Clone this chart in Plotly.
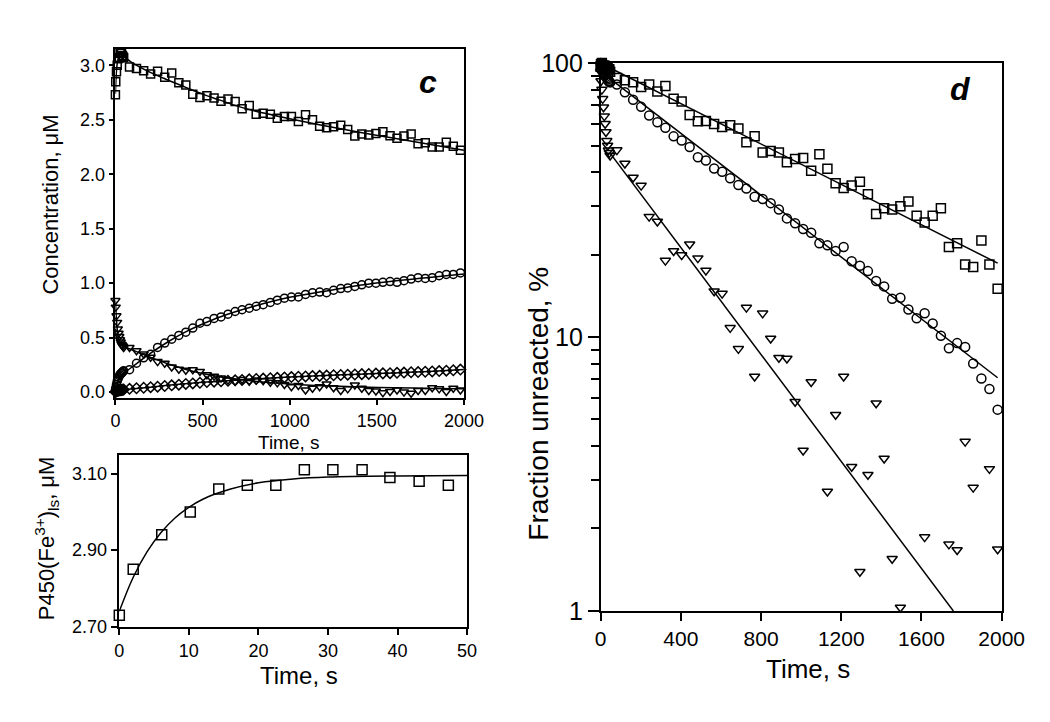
import plotly.graph_objects as go

# ---------------- data ----------------
t_early = [0, 2.0, 6.1, 10.2, 14.3, 18.4, 22.5, 26.6, 30.7, 34.9, 38.9, 43.1, 47.3]
t_late = [81, 121, 162, 202, 242, 283, 323, 364, 404, 444, 485, 525, 566, 606, 646, 687,
          727, 768, 808, 848, 889, 929, 970, 1010, 1050, 1091, 1131, 1172, 1212, 1252,
          1293, 1333, 1374, 1414, 1454, 1495, 1535, 1576, 1616, 1656, 1697, 1737, 1778,
          1818, 1858, 1899, 1939, 1980]
time_all = t_early + t_late

# panel c (concentration, uM)
sq_c_early = [2.73, 2.85, 2.94, 3.00, 3.06, 3.07, 3.07, 3.11, 3.11, 3.11, 3.09, 3.08, 3.07]
sq_c_late = [2.985, 2.97, 2.95, 2.92, 2.945, 2.89, 2.93, 2.84, 2.82, 2.735, 2.705, 2.72,
             2.70, 2.67, 2.69, 2.667, 2.60, 2.63, 2.55, 2.56, 2.55, 2.515, 2.53, 2.53,
             2.485, 2.545, 2.50, 2.44, 2.426, 2.435, 2.45, 2.41, 2.35, 2.37, 2.36, 2.374,
             2.39, 2.353, 2.33, 2.35, 2.37, 2.28, 2.29, 2.25, 2.25, 2.294, 2.256, 2.22]
circ_c = [0.02, 0.04, 0.07, 0.10, 0.12, 0.135, 0.15, 0.16, 0.17, 0.175, 0.18, 0.19, 0.195,
          0.206, 0.265, 0.315, 0.347, 0.41, 0.45, 0.485, 0.52, 0.55, 0.588, 0.632, 0.647,
          0.676, 0.69, 0.715, 0.74, 0.756, 0.77, 0.788, 0.803, 0.823, 0.844, 0.862, 0.873,
          0.873, 0.897, 0.912, 0.918, 0.912, 0.935, 0.95, 0.956, 0.97, 0.985, 1.0, 1.0,
          1.008, 1.015, 1.008, 1.023, 1.038, 1.05, 1.044, 1.05, 1.068, 1.08, 1.08, 1.094]
tri_c = [0.84, 0.78, 0.70, 0.64, 0.58, 0.54, 0.51, 0.48, 0.46, 0.44, 0.43, 0.42, 0.41,
         0.41, 0.38, 0.35, 0.32, 0.28, 0.265, 0.23, 0.21, 0.20, 0.205, 0.19, 0.16, 0.145,
         0.13, 0.11, 0.10, 0.115, 0.10, 0.11, 0.105, 0.09, 0.085, 0.07, 0.05, 0.06, 0.02,
         0.035, 0.05, 0.075, 0.04, 0.015, 0.03, 0.065, 0.035, 0.015, 0.01, -0.005, 0.005,
         0.02, 0.0, -0.01, 0.015, 0.015, 0.04, 0.03, 0.005, 0.035, 0.02]
dia_c = [0.0, 0.005, 0.008, 0.01, 0.012, 0.014, 0.016, 0.018, 0.019, 0.02, 0.021, 0.022, 0.023,
         0.03, 0.035, 0.04, 0.045, 0.05, 0.056, 0.062, 0.068, 0.075, 0.08,
         0.086, 0.092, 0.096, 0.10, 0.104, 0.108, 0.112, 0.117, 0.12, 0.124,
         0.127, 0.131, 0.135, 0.138, 0.141, 0.144, 0.147, 0.149, 0.152, 0.155,
         0.157, 0.16, 0.162, 0.165, 0.167, 0.17, 0.172, 0.174, 0.177, 0.179,
         0.182, 0.184, 0.187, 0.19, 0.193, 0.197, 0.201, 0.207]

# fitted curves, panel c
sq_fit_t = [0, 3, 6, 10, 15, 20, 30, 50, 100, 200, 300, 400, 500, 600, 700, 800, 1000, 1200,
            1400, 1600, 1800, 2000]
sq_fit_y = [2.74, 2.87, 2.95, 3.01, 3.05, 3.07, 3.085, 3.075, 3.02, 2.935, 2.865, 2.80, 2.735,
            2.68, 2.625, 2.58, 2.51, 2.445, 2.385, 2.33, 2.275, 2.22]
circ_fit_t = [0, 10, 25, 50, 100, 200, 300, 400, 500, 600, 800, 1000, 1200, 1400, 1600, 1800, 2000]
circ_fit_y = [0.0, 0.07, 0.13, 0.175, 0.235, 0.355, 0.46, 0.55, 0.625, 0.69, 0.79, 0.87, 0.925,
              0.98, 1.02, 1.052, 1.085]
tri_fit_t = [0, 3, 6, 10, 15, 22, 35, 50, 100, 200, 300, 400, 500, 600, 700, 800, 1000, 1200,
             1400, 1600, 1800, 2000]
tri_fit_y = [0.84, 0.74, 0.66, 0.58, 0.52, 0.48, 0.44, 0.42, 0.385, 0.32, 0.26, 0.21, 0.17, 0.14,
             0.118, 0.10, 0.075, 0.058, 0.047, 0.04, 0.034, 0.03]
dia_fit_t = [0, 50, 100, 200, 300, 400, 500, 600, 800, 1000, 1200, 1400, 1600, 1800, 2000]
dia_fit_y = [0.0, 0.02, 0.03, 0.045, 0.062, 0.077, 0.09, 0.10, 0.12, 0.138, 0.152, 0.164, 0.176,
             0.19, 0.207]

# inset fit
inset_fit_t = [0, 2, 4, 6, 8, 10, 12, 14, 16, 20, 25, 30, 40, 50]
inset_fit_y = [2.74, 2.829, 2.896, 2.946, 2.984, 3.012, 3.033, 3.048, 3.060, 3.076, 3.086, 3.091,
               3.094, 3.095]

# panel d (fraction unreacted, %)
sq_d = [97, 99, 100, 98, 96, 98, 97, 95, 97, 96, 94, 95, 93,
        88.2, 86.5, 85.1, 81.7, 83.5, 78.7, 82.4, 74.0, 72.4, 64.6,
        61.3, 61.5, 59.9, 58.4, 59.3, 57.7, 51.4, 54.0, 47.1, 47.7,
        47.1, 43.4, 44.6, 45.0, 40.4, 46.5, 41.1, 36.4, 35.0, 35.7,
        36.9, 33.2, 28.1, 29.5, 29.2, 30.0, 31.2, 27.7, 26.2, 27.7,
        29.5, 21.3, 22.0, 18.4, 18.0, 22.5, 18.4, 15.0]
circ_d = [100, 99, 97, 95, 93, 92, 90, 89, 88, 87, 86, 85.5, 85,
          83.5, 78.2, 73.4, 69.2, 64.3, 60.8, 58.0, 54.0, 52.1, 49.4,
          45.3, 44.1, 41.2, 40.1, 38.0, 35.9, 34.8, 32.5, 31.9, 30.8,
          29.2, 27.1, 26.0, 24.8, 24.0, 22.0, 21.6, 20.6, 21.3, 18.9,
          18.2, 17.4, 16.0, 15.3, 13.8, 13.9, 12.6, 11.7, 12.2, 11.2,
          10.1, 9.1, 9.5, 9.2, 8.0, 7.06, 6.46, 5.43]
tri_d = [93, 86, 80, 74, 69, 64, 60, 56, 52, 50, 48, 47, 46,
         48.1, 43.0, 38.2, 35.7, 27.5, 26.4, 19.0, 20.6, 19.9, 21.8,
         19.4, 17.5, 14.7, 14.4, 10.8, 9.05, 12.8, 7.17, 12.2, 9.87,
         8.4, 8.35, 5.8, 3.85, 6.85, None, 2.73, 5.2, 7.17, 3.36,
         1.39, 3.14, 5.73, 3.6, 1.55, 1.03, None, None, 1.86, None,
         None, 1.75, 1.67, 4.15, 2.82, None, 3.3, 1.68]

sq_d_fit_t = [40, 1980]
sq_d_fit_y = [96.5, 18.6]
circ_d_fit_t = [40, 1980]
circ_d_fit_y = [88.5, 7.1]
tri_d_fit_t = [48, 1759]
tri_d_fit_y = [46.8, 1.0]

y_minor_vals = [2, 3, 4, 5, 6, 7, 8, 9, 20, 30, 40, 50, 60, 70, 80, 90]

# ---------------- figure ----------------
FONT = "Liberation Sans, Arial, sans-serif"
BLK = "black"
fig = go.Figure()


def mk(symbol, size=8):
    return dict(symbol=symbol, size=size, color=BLK, line=dict(color=BLK, width=1.5))


def fit(x, y, xa, ya, shape="spline"):
    fig.add_trace(go.Scatter(x=x, y=y, mode="lines", xaxis=xa, yaxis=ya,
                             line=dict(color=BLK, width=1.5, shape=shape),
                             showlegend=False, hoverinfo="skip", cliponaxis=False))


def pts(x, y, symbol, xa, ya, size=8):
    fig.add_trace(go.Scatter(x=x, y=y, mode="markers", xaxis=xa, yaxis=ya,
                             marker=mk(symbol, size), showlegend=False, cliponaxis=False))


# panel c
fit(sq_fit_t, sq_fit_y, "x", "y")
fit(circ_fit_t, circ_fit_y, "x", "y")
fit(tri_fit_t, tri_fit_y, "x", "y")
fit(dia_fit_t, dia_fit_y, "x", "y")
pts(time_all, sq_c_early + sq_c_late, "square-open", "x", "y")
pts(time_all, circ_c, "circle-open", "x", "y")
pts(time_all, tri_c, "triangle-down-open", "x", "y")
pts(time_all, dia_c, "diamond-open", "x", "y")

# inset
fit(inset_fit_t, inset_fit_y, "x2", "y2")
pts(t_early, sq_c_early, "square-open", "x2", "y2", size=10)

# panel d
fit(sq_d_fit_t, sq_d_fit_y, "x3", "y3", "linear")
fit(circ_d_fit_t, circ_d_fit_y, "x3", "y3", "linear")
fit(tri_d_fit_t, tri_d_fit_y, "x3", "y3", "linear")
pts(time_all, sq_d, "square-open", "x3", "y3", size=9)
pts(time_all, circ_d, "circle-open", "x3", "y3", size=9)
pts(time_all, tri_d, "triangle-down-open", "x3", "y3", size=9)

W, H = 1050, 722


def px_x(v):
    return v / W


def px_y(v):
    return 1 - v / H


ax_common = dict(showline=True, linecolor=BLK, linewidth=1.5, mirror=True,
                 showgrid=False, zeroline=False, ticks="outside", tickcolor=BLK,
                 tickwidth=1.5, color=BLK)

fig.update_layout(
    width=W, height=H, margin=dict(l=0, r=0, t=0, b=0),
    paper_bgcolor="white", plot_bgcolor="white",
    font=dict(family=FONT, color=BLK),
    xaxis=dict(domain=[px_x(104.3), px_x(462.7)], range=[0, 2000], anchor="y",
               tickvals=[0, 500, 1000, 1500, 2000], ticklen=6,
               tickfont=dict(size=18), **ax_common),
    yaxis=dict(domain=[px_y(390.7), px_y(27.7)], range=[-0.05, 3.153], anchor="x",
               tickvals=[0, 0.5, 1.0, 1.5, 2.0, 2.5, 3.0], tickformat=".1f", ticklen=5,
               tickfont=dict(size=18), **ax_common),
    xaxis2=dict(domain=[px_x(108.3), px_x(466)], range=[0, 50], anchor="y2",
                tickvals=[0, 10, 20, 30, 40, 50], ticklen=7,
                tickfont=dict(size=18), **ax_common),
    yaxis2=dict(domain=[px_y(629), px_y(450)], range=[2.70, 3.15], anchor="x2",
                tickvals=[2.70, 2.90, 3.10], tickformat=".2f", ticklen=7,
                tickfont=dict(size=18), **ax_common),
    xaxis3=dict(domain=[px_x(603.3), px_x(1015.7)], range=[0, 2000], anchor="y3",
                tickvals=[0, 400, 800, 1200, 1600, 2000], ticklen=8,
                tickfont=dict(size=21), **ax_common),
    yaxis3=dict(domain=[px_y(612.7), px_y(42.7)], type="log", range=[0, 2], anchor="x3",
                tickvals=[1, 10, 100], ticktext=["1", "10", "100"], ticklen=11,
                tickfont=dict(size=25),
                minor=dict(tickvals=y_minor_vals, ticks="outside", ticklen=8,
                           tickcolor=BLK, tickwidth=1.5, showgrid=False),
                **ax_common),
)

ann = [
    dict(text="Concentration, μM", x=px_x(38), y=px_y(190), textangle=-90, font=dict(size=22)),
    dict(text="Time, s", x=px_x(283), y=px_y(437), font=dict(size=19)),
    dict(text="P450(Fe<sup>3+</sup>)<sub>ls</sub>, μM", x=px_x(33), y=px_y(537), textangle=-90,
         font=dict(size=22)),
    dict(text="Time, s", x=px_x(293), y=px_y(680), font=dict(size=24)),
    dict(text="Fraction unreacted, %", x=px_x(540), y=px_y(397), textangle=-90, font=dict(size=28)),
    dict(text="Time, s", x=px_x(817), y=px_y(673), font=dict(size=26)),
    dict(text="<b><i>c</i></b>", x=px_x(426), y=px_y(62), font=dict(size=32)),
    dict(text="<b><i>d</i></b>", x=px_x(973), y=px_y(70), font=dict(size=32)),
]
for a in ann:
    fig.add_annotation(xref="paper", yref="paper", showarrow=False,
                       xanchor="center", yanchor="middle", **a)

fig.write_html("out.html")
